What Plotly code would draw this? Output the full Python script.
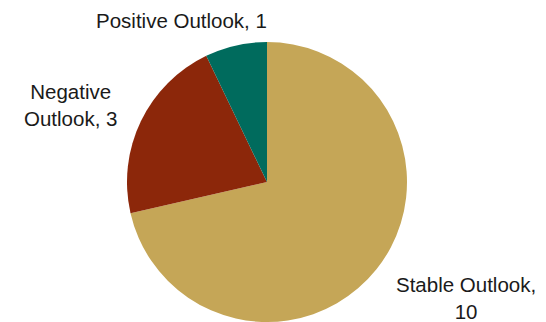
import plotly.graph_objects as go

labels = ["Stable Outlook", "Negative Outlook", "Positive Outlook"]
values = [10, 3, 1]
colors = ["#C5A657", "#8C270A", "#006B5D"]
label_texts = ["Stable Outlook,<br>10", "Negative<br>Outlook, 3", "Positive Outlook, 1"]
label_pos = [(466, 298), (70, 105), (181, 20)]

W, H = 546, 322
fig = go.Figure(go.Pie(
    labels=labels, values=values, sort=False, direction="clockwise", rotation=0,
    marker=dict(colors=colors, line=dict(width=0)),
    textinfo="none", hoverinfo="label+value",
    domain=dict(x=[(267 - 141) / W, (267 + 141) / W], y=[0, 1 - 42 / H]),
    showlegend=False,
))
for t, (x, y) in zip(label_texts, label_pos):
    fig.add_annotation(x=x / W, y=1 - y / H, xref="paper", yref="paper", text=t,
                       showarrow=False, xanchor="center", yanchor="middle", align="center",
                       font=dict(family="Liberation Sans, Arial", size=20.5, color="#1a1a1a"))
fig.update_layout(width=W, height=H, margin=dict(l=0, r=0, t=0, b=0),
                  paper_bgcolor="white", plot_bgcolor="white")
fig.write_html("out.html", config={"displayModeBar": False})
with open("out.html") as f:
    html = f.read()
html = html.replace("<head>", "<head><style>html,body{margin:0;padding:0;overflow:hidden;}</style>", 1)
with open("out.html", "w") as f:
    f.write(html)
